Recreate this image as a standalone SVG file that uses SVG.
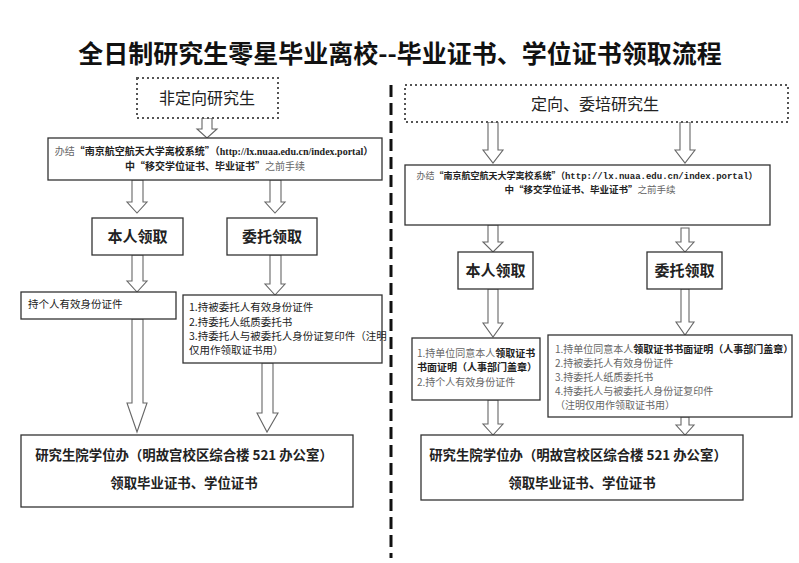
<svg xmlns="http://www.w3.org/2000/svg" width="799" height="563" viewBox="0 0 799 563">
<style>
.bg{fill:#fff}
.box{fill:#fff;stroke:#333;stroke-width:1.3}
.hbox{fill:#fff;stroke:#555;stroke-width:2;stroke-dasharray:2 3}
.arr{fill:#fff;stroke:#666;stroke-width:1.1}
.t{font-family:"Noto Sans CJK SC","Liberation Sans",sans-serif;fill:#222}
.b{font-weight:bold}
.g{font-weight:normal;fill:#666}
.title{font-size:25px;font-weight:bold;fill:#111}
.big{font-size:16px;fill:#222}
.lbl{font-size:15px;font-weight:bold}
.sm{font-size:10px}
.url{font-family:"Liberation Serif",serif;font-weight:bold}
.mono{font-family:"Liberation Mono",monospace;font-weight:bold}
.off{font-size:13.4px;font-weight:bold}
</style>
<rect class="bg" x="0" y="0" width="799" height="563"/>
<text class="t title" x="400" y="63" text-anchor="middle">全日制研究生零星毕业离校--毕业证书、学位证书领取流程</text>
<line x1="391" y1="85" x2="391" y2="558" stroke="#111" stroke-width="3" stroke-dasharray="12 6"/>

<g id="connectors">
<path class="arr" d="M202,118 L212,118 L212,129 L217,129 L207,138 L197,129 L202,129 Z"/>
<path class="arr" d="M132,180 L143,180 L143,202 L147,202 L137,213 L127,202 L132,202 Z"/>
<path class="arr" d="M270,180 L281,180 L281,202 L285,202 L275,213 L265,202 L270,202 Z"/>
<path class="arr" d="M132,255 L143,255 L143,281 L147,281 L137,292 L127,281 L132,281 Z"/>
<path class="arr" d="M270,255 L281,255 L281,284 L285,284 L275,295 L265,284 L270,284 Z"/>
<path class="arr" d="M132,319 L143,319 L143,403 L147,403 L137,432 L127,403 L132,403 Z"/>
<path class="arr" d="M262,363 L273,363 L273,413 L278,413 L267,432 L257,413 L262,413 Z"/>
<path class="arr" d="M488,122 L498,122 L498,150 L503,150 L493,163 L483,150 L488,150 Z"/>
<path class="arr" d="M680,122 L690,122 L690,150 L695,150 L685,163 L675,150 L680,150 Z"/>
<path class="arr" d="M488,225 L498,225 L498,242 L503,242 L493,252 L483,242 L488,242 Z"/>
<path class="arr" d="M681,228 L689,228 L689,242 L694,242 L685,252 L676,242 L681,242 Z"/>
<path class="arr" d="M488,289 L498,289 L498,323 L503,323 L493,337 L483,323 L488,323 Z"/>
<path class="arr" d="M681,289 L689,289 L689,322 L694,322 L685,335 L676,322 L681,322 Z"/>
<path class="arr" d="M488,400 L498,400 L498,424 L503,424 L493,435 L483,424 L488,424 Z"/>
<path class="arr" d="M681,417 L689,417 L689,425 L694,425 L685,435 L676,425 L681,425 Z"/>
</g>

<g id="n-left-start">
<rect class="hbox" x="137" y="78" width="141" height="40"/>
<text class="t big" x="207" y="104" text-anchor="middle">非定向研究生</text>
</g>
<g id="n-left-system">
<rect class="box" x="48" y="138" width="334" height="42"/>
<text class="t sm" x="214" y="155" text-anchor="middle"><tspan class="g">办结</tspan><tspan class="b">“南京航空航天大学离校系统”（</tspan><tspan class="url">http://lx.nuaa.edu.cn/index.portal</tspan><tspan class="b">）</tspan></text>
<text class="t sm" x="215" y="170" text-anchor="middle"><tspan class="b">中“移交学位证书、毕业证书”</tspan><tspan class="g">之前手续</tspan></text>
</g>
<g id="n-left-self">
<rect class="box" x="92" y="218" width="91" height="37"/>
<text class="t lbl" x="137.5" y="242" text-anchor="middle">本人领取</text>
</g>
<g id="n-left-proxy">
<rect class="box" x="227" y="218" width="90" height="37"/>
<text class="t lbl" x="272" y="242" text-anchor="middle">委托领取</text>
</g>
<g id="n-left-self-req">
<rect class="box" x="21" y="292" width="155" height="27"/>
<text class="t" x="28" y="308" font-size="10.5" fill="#333">持个人有效身份证件</text>
</g>
<g id="n-left-proxy-req">
<rect class="box" x="183" y="295" width="199" height="68"/>
<text class="t" font-size="10.5" fill="#333">
<tspan x="189" y="311">1.持被委托人有效身份证件</tspan>
<tspan x="189" y="326">2.持委托人纸质委托书</tspan>
<tspan x="189" y="340">3.持委托人与被委托人身份证复印件（注明</tspan>
<tspan x="189" y="354">仅用作领取证书用）</tspan>
</text>
</g>
<g id="n-left-office">
<rect class="box" x="21" y="435" width="332" height="72"/>
<text class="t off" x="184" y="460" text-anchor="middle">研究生院学位办（明故宫校区综合楼 521 办公室）</text>
<text class="t off" x="184" y="488" text-anchor="middle">领取毕业证书、学位证书</text>
</g>

<g id="n-right-start">
<rect class="hbox" x="405" y="85" width="383" height="37"/>
<text class="t big" x="595" y="110" text-anchor="middle">定向、委培研究生</text>
</g>
<g id="n-right-system">
<rect class="box" x="405" y="165" width="365" height="60"/>
<text class="t" font-size="9" x="587" y="179" text-anchor="middle"><tspan class="g">办结</tspan><tspan class="b">“南京航空航天大学离校系统”（</tspan><tspan class="mono">http://lx.nuaa.edu.cn/index.portal</tspan><tspan class="b">）</tspan></text>
<text class="t" font-size="9.5" x="590" y="193" text-anchor="middle"><tspan class="b">中“移交学位证书、毕业证书”</tspan><tspan class="g">之前手续</tspan></text>
</g>
<g id="n-right-self">
<rect class="box" x="458" y="252" width="75" height="37"/>
<text class="t lbl" x="495.5" y="276" text-anchor="middle">本人领取</text>
</g>
<g id="n-right-proxy">
<rect class="box" x="647" y="252" width="75" height="37"/>
<text class="t lbl" x="684.5" y="276" text-anchor="middle">委托领取</text>
</g>
<g id="n-right-self-req">
<rect class="box" x="412" y="338" width="128" height="62"/>
<text class="t" font-size="10">
<tspan x="417" y="357"><tspan class="g">1.持单位同意本人</tspan><tspan class="b">领取证书</tspan></tspan>
<tspan x="417" y="371" class="b">书面证明（人事部门盖章）</tspan>
<tspan x="417" y="386" class="g">2.持个人有效身份证件</tspan>
</text>
</g>
<g id="n-right-proxy-req">
<rect class="box" x="548" y="335" width="244" height="82"/>
<text class="t" font-size="10">
<tspan x="555" y="353"><tspan class="g">1.持单位同意本人</tspan><tspan class="b">领取证书书面证明（人事部门盖章）</tspan></tspan>
<tspan x="555" y="367" class="g">2.持被委托人有效身份证件</tspan>
<tspan x="555" y="381" class="g">3.持委托人纸质委托书</tspan>
<tspan x="555" y="395" class="g">4.持委托人与被委托人身份证复印件</tspan>
<tspan x="555" y="409" class="g">（注明仅用作领取证书用）</tspan>
</text>
</g>
<g id="n-right-office">
<rect class="box" x="421" y="435" width="322" height="65"/>
<text class="t off" x="578" y="460" text-anchor="middle">研究生院学位办（明故宫校区综合楼 521 办公室）</text>
<text class="t off" x="582" y="488" text-anchor="middle">领取毕业证书、学位证书</text>
</g>
</svg>
